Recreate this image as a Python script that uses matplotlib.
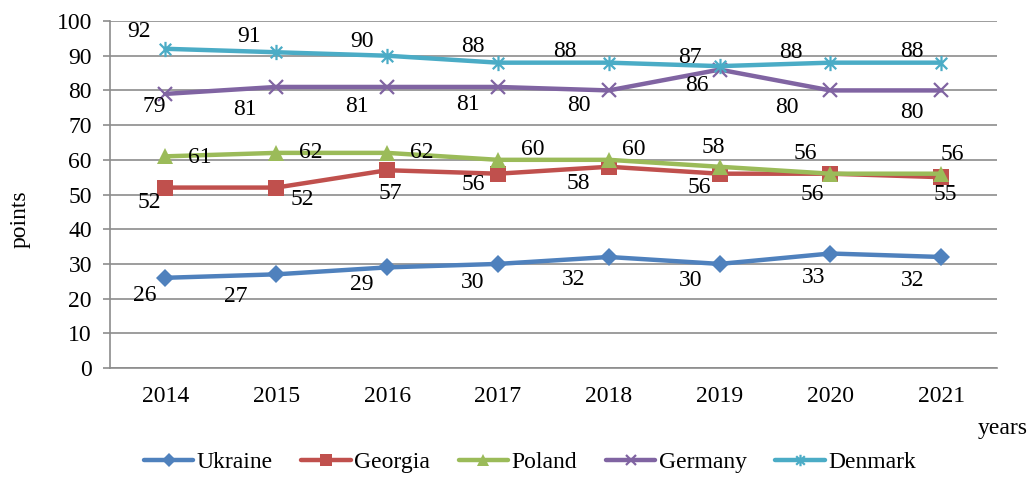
import matplotlib

matplotlib.use("Agg")

import matplotlib.pyplot as plt
from matplotlib.path import Path
import numpy as np

plt.rcParams["font.family"] = ["Liberation Serif", "DejaVu Serif"]

YEARS = ["2014", "2015", "2016", "2017", "2018", "2019", "2020", "2021"]
UKRAINE = [26, 27, 29, 30, 32, 30, 33, 32]
GEORGIA = [52, 52, 57, 56, 58, 56, 56, 55]
POLAND = [61, 62, 62, 60, 60, 58, 56, 56]
GERMANY = [79, 81, 81, 81, 80, 86, 80, 80]
DENMARK = [92, 91, 90, 88, 88, 87, 88, 88]

FONT_SIZE = 17

# excel style asterisk: vertical bar plus an x
STAR = Path(
    [(0, -1), (0, 1), (-0.75, -0.75), (0.75, 0.75), (-0.75, 0.75), (0.75, -0.75)],
    [Path.MOVETO, Path.LINETO, Path.MOVETO, Path.LINETO, Path.MOVETO, Path.LINETO],
)

SERIES = [
    ("Ukraine", UKRAINE, "#4F81BD", "D", 9),
    ("Georgia", GEORGIA, "#C0504D", "s", 11),
    ("Poland", POLAND, "#9BBB59", "^", 11),
    ("Germany", GERMANY, "#8064A2", "x", 10),
    ("Denmark", DENMARK, "#4BACC6", STAR, 11),
]

# data label offsets in pixels (dx, dy), one per point, dy positive = up
LABEL_OFFSETS = {
    "Ukraine": [(-21, -18), (-41, -22), (-25, -17), (-25, -19), (-35, -23), (-29, -17), (-17, -24), (-29, -24)],
    "Georgia": [(-16, -15), (26, -12), (3, -23), (-25, -11), (-30, -17), (-20, -14), (-18, -21), (4, -17)],
    "Poland": [(34, -1), (34, 0), (35, 0), (35, 10), (25, 10), (-6, 19), (-25, 20), (11, 19)],
    "Germany": [(-11, -13), (-31, -23), (-30, -20), (-30, -18), (-30, -15), (-23, -16), (-44, -17), (-29, -22)],
    "Denmark": [(-26, 17), (-27, 16), (-25, 14), (-25, 16), (-44, 11), (-30, 9), (-40, 10), (-29, 11)],
}

fig = plt.figure(figsize=(10.31, 4.8), dpi=100)
ax = fig.add_axes([0.1067, 0.2333, 0.86, 0.7229])

x = np.arange(len(YEARS))
for name, values, color, marker, ms in SERIES:
    hollow = marker == "x" or marker is STAR
    ax.plot(
        x,
        values,
        color=color,
        linewidth=3.2,
        marker=marker,
        markersize=ms,
        markeredgewidth=1.6 if hollow else 0,
        markeredgecolor=color,
        markerfacecolor=color,
        label=name,
        zorder=3,
        solid_capstyle="round",
    )
    for xi, v, (dx, dy) in zip(x, values, LABEL_OFFSETS[name]):
        ax.annotate(
            str(v),
            (xi, v),
            xytext=(dx, dy),
            textcoords="offset pixels",
            ha="center",
            va="center",
            fontsize=FONT_SIZE,
            color="black",
            zorder=4,
        )

ax.set_xlim(-0.5, len(YEARS) - 0.5)
ax.set_ylim(0, 100)
ax.set_yticks(np.arange(0, 101, 10))
ax.set_xticks(x)
ax.set_xticklabels(YEARS)
ax.yaxis.grid(True, color="#8C8C8C", linewidth=1.2)
ax.set_axisbelow(True)

for side in ("top", "right"):
    ax.spines[side].set_visible(False)
for side in ("left", "bottom"):
    ax.spines[side].set_color("#8C8C8C")
    ax.spines[side].set_linewidth(1.2)

ax.tick_params(axis="y", length=5, width=1.2, color="#8C8C8C", pad=8, labelsize=FONT_SIZE)
ax.tick_params(axis="x", length=0, pad=13, labelsize=FONT_SIZE)

ax.set_ylabel("points", fontsize=FONT_SIZE)
ax.yaxis.set_label_coords(-0.090, 0.43)
fig.text(0.997, 0.108, "years", fontsize=FONT_SIZE, ha="right", va="center")

fig.legend(
    loc="center",
    bbox_to_anchor=(0.514, 0.036),
    ncol=5,
    frameon=False,
    fontsize=FONT_SIZE,
    handlelength=2.1,
    handletextpad=0.15,
    columnspacing=1.2,
    markerscale=0.75,
)

fig.savefig("out.png", dpi=100)
